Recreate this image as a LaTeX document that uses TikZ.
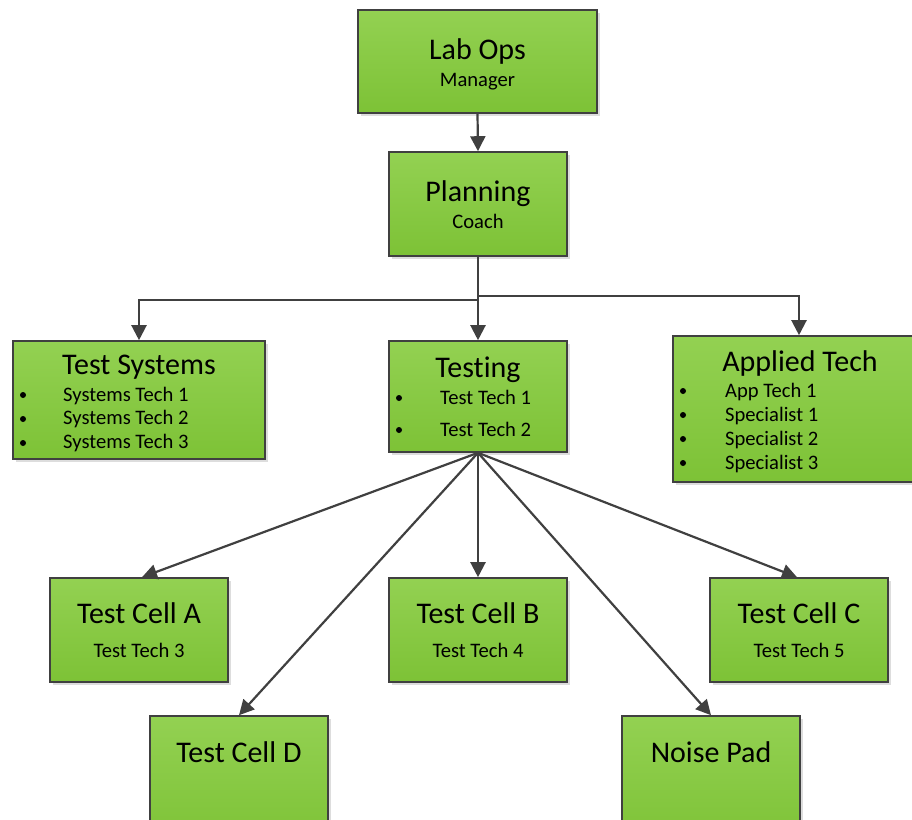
\documentclass[tikz,border=0pt]{standalone}
\usepackage{fontspec}
\setmainfont{Carlito}[Ligatures=NoCommon]
\usetikzlibrary{arrows.meta,shadows}
\definecolor{boxtop}{HTML}{93D152}
\definecolor{boxbot}{HTML}{7DC236}
\definecolor{edge}{HTML}{404040}
\begin{document}
\begin{tikzpicture}[x=1pt,y=-1pt,
  box/.style={draw=edge, line width=1.6pt, top color=boxtop, bottom color=boxbot,
    inner sep=0pt,
    drop shadow={shadow xshift=3pt, shadow yshift=-3pt, opacity=0.22, fill=black!60}},
  title/.style={anchor=base, inner sep=0pt, font=\fontsize{30}{35}\selectfont},
  sub/.style={anchor=base, inner sep=0pt, font=\fontsize{20.6}{24}\selectfont},
  item/.style={anchor=base west, inner sep=0pt, font=\fontsize{20.6}{24}\selectfont},
  dot/.style={circle, fill=black, inner sep=0pt, minimum size=6pt},
  link/.style={draw=edge, line width=2.2pt, -{Triangle[length=15pt,width=15pt]}},
]
\useasboundingbox (0,0) rectangle (912,819);
\clip (0,0) rectangle (912,819);

% boxes
\node[box, minimum width=239pt, minimum height=103pt] (lab)     at (477.5,61.5) {};
\node[box, minimum width=178pt, minimum height=104pt] (plan)    at (478,204) {};
\node[box, minimum width=252pt, minimum height=118pt] (sys)     at (139,400) {};
\node[box, minimum width=178pt, minimum height=111pt] (testing) at (478,396.5) {};
\node[box, minimum width=252pt, minimum height=146pt] (app)     at (799,409) {};
\node[box, minimum width=178pt, minimum height=104pt] (cellA)   at (139,630) {};
\node[box, minimum width=178pt, minimum height=104pt] (cellB)   at (478,630) {};
\node[box, minimum width=178pt, minimum height=104pt] (cellC)   at (799,630) {};
\node[box, minimum width=178pt, minimum height=130pt] (cellD)   at (239,781) {};
\node[box, minimum width=178pt, minimum height=130pt] (noise)   at (711,781) {};

% texts
\node[title] (labT) at (477.5,59) {Lab Ops};
\node[sub]   (labS) at (477.5,86) {Manager};
\node[title] (planT) at (478,201) {Planning};
\node[sub]   (planS) at (478,228) {Coach};

\node[title] (sysT) at (139,374) {Test Systems};
\node[dot] (sysd1) at (23,395) {};
\node[dot] (sysd2) at (23,419) {};
\node[dot] (sysd3) at (23,443) {};
\node[item] (sys1) at (63,401) {Systems Tech 1};
\node[item] (sys2) at (63,424.5) {Systems Tech 2};
\node[item] (sys3) at (63,448) {Systems Tech 3};

\node[title] (testT) at (478,377) {Testing};
\node[dot] (testd1) at (399,398) {};
\node[dot] (testd2) at (399,430) {};
\node[item] (test1) at (440,404) {Test Tech 1};
\node[item] (test2) at (440,436) {Test Tech 2};

\node[title] (appT) at (800,371) {Applied Tech};
\node[dot] (appd1) at (683,391) {};
\node[dot] (appd2) at (683,415) {};
\node[dot] (appd3) at (683,439) {};
\node[dot] (appd4) at (683,463) {};
\node[item] (app1) at (725,397) {App Tech 1};
\node[item] (app2) at (725,421) {Specialist 1};
\node[item] (app3) at (725,445) {Specialist 2};
\node[item] (app4) at (725,469) {Specialist 3};

\node[title] (cellAT) at (139,623) {Test Cell A};
\node[sub]   (cellAS) at (139,657) {Test Tech 3};
\node[title] (cellBT) at (478,623) {Test Cell B};
\node[sub]   (cellBS) at (478,657) {Test Tech 4};
\node[title] (cellCT) at (799,623) {Test Cell C};
\node[sub]   (cellCS) at (799,657) {Test Tech 5};
\node[title] (cellDT) at (239,762) {Test Cell D};
\node[title] (noiseT) at (711,762) {Noise Pad};

% connectors
\draw[link] (lab.south) -- (plan.north);
\draw[link] (plan.south) -- ++(0,43) -| (sys.north);
\draw[link] (plan.south) -- ++(0,39) -| (app.north);
\draw[link] (plan.south) -- (testing.north);
\draw[link] (testing.south) -- ([xshift=3pt]cellA.north);
\draw[link] (testing.south) -- (cellB.north);
\draw[link] (testing.south) -- ([xshift=-2pt]cellC.north);
\draw[link] (testing.south) -- (cellD.north);
\draw[link] (testing.south) -- (noise.north);
\end{tikzpicture}
\end{document}
